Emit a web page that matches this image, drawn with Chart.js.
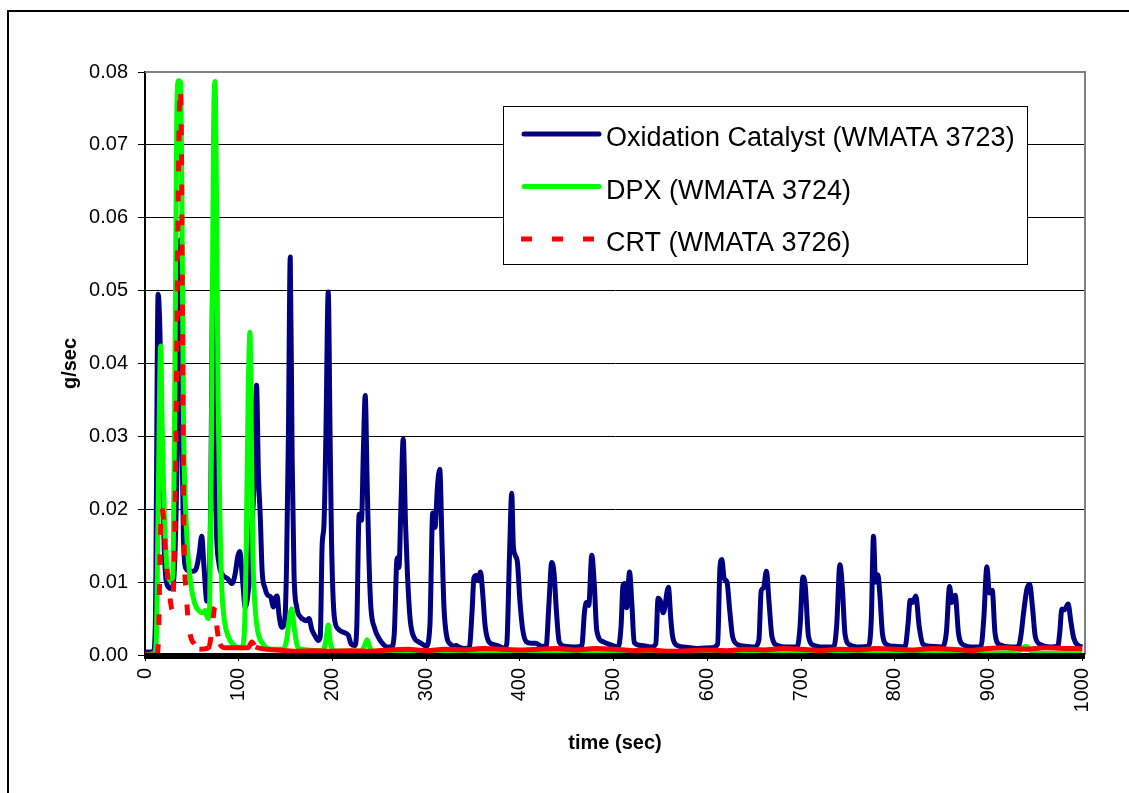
<!DOCTYPE html>
<html>
<head>
<meta charset="utf-8">
<title>g/sec vs time</title>
<script src="https://cdn.jsdelivr.net/npm/chart.js@4.4.1/dist/chart.umd.min.js"></script>
<style>
  html, body { margin: 0; padding: 0; background: #fff; }
  #wrap { width: 1129px; height: 793px; }
</style>
</head>
<body>
<div id="wrap"><canvas id="chart" width="1129" height="793"></canvas></div>
<script>
const xTicks = [0, 100, 200, 300, 400, 500, 600, 700, 800, 900, 1000];
const yTicks = [0, 0.01, 0.02, 0.03, 0.04, 0.05, 0.06, 0.07, 0.08];
const seriesNames = ['Oxidation Catalyst (WMATA 3723)', 'DPX (WMATA 3724)', 'CRT (WMATA 3726)'];

// [time (sec), g/sec]
const oxidation = [
  [0,0.0004],[5,0.0004],[9,0.0005],[11,0.004],[14,0.0495],[16,0.044],[18,0.029],[21,0.013],[25,0.0093],
  [28,0.0091],[31,0.011],[34,0.025],[36,0.045],[38,0.057],[39.5,0.03],[41,0.016],[44,0.0118],[48,0.0115],
  [52,0.0115],[55,0.012],[58,0.014],[60.5,0.0163],[63,0.012],[66,0.0074],[68,0.008],[70,0.02],[72.5,0.052],
  [74,0.035],[76,0.018],[79,0.0125],[83,0.011],[88,0.0105],[93,0.0098],[96,0.011],[99,0.0135],[101,0.0142],
  [104,0.0105],[107,0.0065],[109,0.0075],[112,0.0115],[114,0.018],[116,0.022],[119,0.037],[121,0.025],
  [123,0.019],[125,0.0115],[128,0.0092],[131,0.0082],[134,0.008],[137,0.0066],[139,0.0078],[141,0.0081],
  [143,0.0055],[146,0.0038],[149,0.0045],[151,0.012],[153,0.03],[155,0.0546],[157,0.027],[159,0.0112],
  [162,0.0065],[166,0.0052],[170,0.0048],[172,0.0047],[175,0.005],[178,0.0035],[181,0.0027],[185,0.002],
  [187,0.0025],[189,0.015],[191,0.018],[193,0.03],[195.5,0.0498],[197.5,0.03],[199,0.0158],[202,0.0052],
  [206,0.0036],[210,0.0032],[214,0.003],[217,0.0027],[220,0.0015],[224,0.0013],[226,0.004],[228.5,0.0193],
  [231,0.0185],[233,0.028],[235,0.0356],[237,0.024],[239,0.013],[241,0.0066],[245,0.0037],[250,0.0022],
  [254,0.0015],[258,0.0011],[263,0.0011],[266,0.003],[269,0.0133],[271,0.012],[273,0.02],[275.5,0.0296],
  [278,0.018],[280,0.0112],[283,0.0048],[288,0.0022],[292,0.0018],[296,0.0015],[300,0.0012],[304,0.004],
  [307,0.0195],[309.5,0.0175],[312,0.023],[314.5,0.0255],[317,0.015],[319,0.0066],[322,0.0025],[326,0.0015],
  [329,0.0012],[332,0.0013],[335,0.0011],[341,0.0009],[346,0.001],[349,0.006],[351,0.0106],[353.5,0.0109],
  [355.5,0.0102],[358,0.0114],[360,0.009],[363,0.0039],[367,0.0018],[373,0.0014],[378,0.0012],[383,0.0009],
  [386,0.0015],[389,0.014],[391.3,0.0222],[393,0.015],[395,0.0137],[397.5,0.0126],[400,0.0075],[403,0.0035],
  [407,0.0018],[412,0.0016],[417,0.0016],[423,0.0012],[428,0.0012],[431,0.007],[434,0.0127],[436.5,0.0112],
  [439,0.006],[442,0.0018],[448,0.0012],[458,0.0011],[466,0.0012],[469,0.006],[471,0.0072],[473.5,0.0068],
  [476.7,0.0137],[479.5,0.0095],[482,0.0034],[489,0.0018],[497,0.0014],[505,0.0011],[508,0.004],[510,0.0095],
  [512,0.0098],[514,0.0065],[517,0.0114],[519.5,0.007],[522,0.0017],[530,0.0013],[540,0.0011],[545,0.0015],
  [547.5,0.0078],[550,0.0074],[553,0.0058],[558.5,0.0093],[561,0.005],[563,0.0025],[568,0.0013],[575,0.0011],
  [590,0.0009],[605,0.001],[611,0.0015],[613.5,0.012],[615.5,0.0131],[618,0.0105],[621,0.01],[624,0.006],
  [627,0.0025],[633,0.0014],[640,0.0012],[650,0.0011],[655,0.002],[657.5,0.0088],[660,0.0092],[663,0.0115],
  [666,0.007],[669,0.0025],[675,0.0013],[685,0.0011],[696,0.0011],[699,0.004],[702,0.0107],[704.5,0.0095],
  [708,0.0025],[714,0.0013],[725,0.0011],[735,0.0011],[738,0.004],[741.5,0.0124],[744,0.0095],[747,0.0028],
  [752,0.0014],[762,0.0011],[772,0.0012],[775,0.005],[777.3,0.0163],[779.5,0.01],[782,0.011],[784,0.0085],
  [787,0.0028],[792,0.0014],[800,0.0012],[811,0.0011],[814,0.004],[816.5,0.0075],[819,0.0072],[822.5,0.0081],
  [826,0.004],[830,0.0015],[838,0.0012],[850,0.0011],[855,0.003],[858.5,0.0094],[861,0.0072],[864.5,0.0082],
  [868,0.003],[873,0.0014],[885,0.0011],[892,0.0012],[895,0.005],[898.3,0.0121],[901,0.0085],[904,0.0089],
  [907,0.003],[912,0.0014],[925,0.0011],[932,0.0012],[935,0.003],[937,0.0053],[941,0.009],[944,0.0097],
  [947,0.0065],[950,0.0025],[956,0.0014],[966,0.0011],[974,0.0012],[976,0.003],[978.3,0.0063],[981,0.0062],
  [985,0.007],[988,0.0045],[991,0.0023],[996,0.0013],[1000,0.0011]
];

const dpx = [
  [0,0],[10,0.0002],[12,0.002],[14,0.02],[16.7,0.0424],[18.5,0.03],[20,0.022],[22,0.015],[24.5,0.0107],
  [28,0.0102],[30,0.012],[32,0.04],[34,0.075],[35.6,0.0788],[38,0.0785],[39.5,0.06],[41,0.033],[44,0.018],
  [48,0.0107],[53,0.0071],[58,0.006],[62,0.0058],[64,0.0061],[67,0.005],[69,0.007],[71,0.03],[73,0.07],
  [74.7,0.0787],[76.5,0.06],[78,0.035],[80,0.018],[82,0.009],[85,0.0045],[89,0.0025],[95,0.0013],[103,0.001],
  [106,0.003],[108,0.015],[110,0.035],[112,0.0443],[113.5,0.03],[115,0.0145],[117,0.0075],[120,0.0035],
  [126,0.0015],[135,0.0008],[147,0.0008],[151,0.002],[154,0.005],[156.5,0.0063],[159,0.004],[162,0.0015],
  [166,0.0008],[190,0.0006],[193,0.002],[195.5,0.0041],[198,0.0015],[202,0.0006],[230,0.0005],[234,0.0012],
  [237,0.0021],[240,0.001],[245,0.0004],[300,0.0003],[350,0.0002],[400,0.0003],[450,0.0002],[500,0.0002],
  [550,0.0003],[600,0.0002],[650,0.0002],[700,0.0003],[750,0.0002],[800,0.0002],[850,0.0003],[900,0.0002],
  [930,0.0004],[940,0.0012],[945,0.0006],[960,0.0002],[1000,0.0003]
];

const crt = [
  [0,0],[13,0],[14.5,0.003],[16,0.013],[17.5,0.0203],[19.5,0.019],[22,0.014],[24,0.011],[27,0.0075],
  [29,0.0062],[31,0.012],[33,0.03],[35,0.058],[37.5,0.0778],[39,0.068],[40,0.045],[41.5,0.0176],[44,0.0085],
  [48,0.003],[53,0.0015],[58,0.0008],[68,0.001],[71,0.003],[74.7,0.0066],[77,0.0035],[80,0.0015],[85,0.001],
  [110,0.001],[114,0.0018],[118,0.0011],[140,0.0007],[160,0.0005],[180,0.0006],[200,0.0005],[220,0.0006],
  [240,0.0005],[260,0.0007],[280,0.0008],[300,0.0006],[320,0.0008],[340,0.0007],[360,0.0009],[380,0.0008],
  [400,0.0007],[420,0.0008],[440,0.0009],[460,0.0007],[480,0.0009],[500,0.0008],[520,0.0006],[540,0.0007],
  [560,0.0005],[580,0.0006],[600,0.0007],[620,0.0006],[640,0.0008],[660,0.0007],[680,0.0009],[700,0.0008],
  [720,0.0006],[740,0.0008],[760,0.0007],[780,0.0009],[800,0.0008],[820,0.0007],[840,0.0009],[860,0.0008],
  [880,0.0006],[900,0.0009],[920,0.001],[940,0.0008],[960,0.001],[980,0.0009],[1000,0.0009]
];

const fontFamily = '"Liberation Sans", Arial, sans-serif';
Chart.defaults.font.family = fontFamily;
Chart.defaults.color = '#000';

function toPoints(list) {
  return list.map(([x, y]) => ({ x, y }));
}

// white page, outer frame, grey plot border, black band under the x axis
const framePlugin = {
  id: 'frame',
  beforeDraw(chart) {
    const ctx = chart.ctx;
    ctx.save();
    ctx.fillStyle = '#fff';
    ctx.fillRect(0, 0, chart.width, chart.height);
    ctx.strokeStyle = '#000';
    ctx.lineWidth = 2;
    ctx.strokeRect(8, 11, chart.width + 20, chart.height + 20);
    ctx.restore();
  },
  afterDatasetsDraw(chart) {
    const { ctx, chartArea: a } = chart;
    ctx.save();
    ctx.strokeStyle = '#808080';
    ctx.lineWidth = 2;
    ctx.beginPath();
    ctx.moveTo(a.left, a.top);
    ctx.lineTo(a.right, a.top);
    ctx.lineTo(a.right, a.bottom);
    ctx.stroke();
    ctx.fillStyle = '#000';
    ctx.fillRect(a.left - 1, a.bottom - 2, a.right - a.left + 1, 6);
    ctx.restore();
  }
};

// boxed legend inside the plot, upper right
const boxLegend = {
  id: 'boxLegend',
  afterDraw(chart) {
    const ctx = chart.ctx;
    const bx = 503.5, by = 106.5, bw = 524, bh = 158;
    ctx.save();
    ctx.fillStyle = '#fff';
    ctx.fillRect(bx, by, bw, bh);
    ctx.strokeStyle = '#000';
    ctx.lineWidth = 1;
    ctx.strokeRect(bx, by, bw, bh);
    ctx.font = '27px ' + fontFamily;
    ctx.textBaseline = 'middle';
    chart.data.datasets.forEach((ds, i) => {
      const rowY = 139 + i * 52.5;
      ctx.strokeStyle = ds.borderColor;
      ctx.lineWidth = 5;
      ctx.beginPath();
      if (ds.legendDash) {
        ctx.setLineDash(ds.legendDash);
        ctx.lineCap = 'butt';
        ctx.moveTo(521, rowY - 5);
        ctx.lineTo(595, rowY - 5);
      } else {
        ctx.setLineDash([]);
        ctx.lineCap = 'round';
        ctx.moveTo(524, rowY - 5);
        ctx.lineTo(599, rowY - 5);
      }
      ctx.stroke();
      ctx.fillStyle = '#000';
      ctx.fillText(ds.label, 606, rowY);
    });
    ctx.restore();
  }
};

new Chart(document.getElementById('chart'), {
  type: 'line',
  data: {
    datasets: [
      {
        label: seriesNames[0],
        data: toPoints(oxidation),
        borderColor: '#000080',
        borderWidth: 5,
        order: 3
      },
      {
        label: seriesNames[1],
        data: toPoints(dpx),
        borderColor: '#00ff00',
        borderWidth: 5,
        order: 2
      },
      {
        label: seriesNames[2],
        data: toPoints(crt),
        borderColor: '#ff0000',
        borderWidth: 5,
        order: 1,
        legendDash: [11, 20],
        segment: {
          borderDash: ctx => Math.abs(ctx.p1.y - ctx.p0.y) > 4 ? [11, 19] : []
        }
      }
    ]
  },
  options: {
    responsive: false,
    animation: false,
    events: [],
    layout: { padding: { top: 72, right: 44, left: 0, bottom: 0 } },
    elements: {
      point: { radius: 0 },
      line: { cubicInterpolationMode: 'monotone', borderCapStyle: 'butt', borderJoinStyle: 'round', fill: false }
    },
    plugins: {
      legend: { display: false },
      tooltip: { enabled: false }
    },
    scales: {
      x: {
        type: 'linear',
        min: 0,
        max: 1003,
        afterBuildTicks: scale => { scale.ticks = xTicks.map(value => ({ value })); },
        afterFit: scale => { scale.height = 138; },
        grid: { drawOnChartArea: false, drawTicks: true, tickLength: 6, color: '#000' },
        border: { display: false },
        ticks: {
          autoSkip: false,
          minRotation: 90,
          maxRotation: 90,
          padding: 7,
          font: { size: 20 },
          callback: value => String(value)
        },
        title: {
          display: true,
          text: 'time (sec)',
          font: { size: 20, weight: 'bold' },
          padding: { top: 0, bottom: 38 }
        }
      },
      y: {
        min: 0,
        max: 0.08,
        afterBuildTicks: scale => { scale.ticks = yTicks.map(value => ({ value })); },
        afterFit: scale => { scale.width = 145; },
        grid: { color: '#000', lineWidth: 1, drawTicks: true, tickLength: 7 },
        border: { display: true, color: '#000', width: 2 },
        ticks: {
          padding: 10,
          font: { size: 20 },
          callback: value => value.toFixed(2)
        },
        title: {
          display: true,
          text: 'g/sec',
          font: { size: 20, weight: 'bold' },
          padding: { top: 58, bottom: 0 }
        }
      }
    }
  },
  plugins: [framePlugin, boxLegend]
});
</script>
</body>
</html>
